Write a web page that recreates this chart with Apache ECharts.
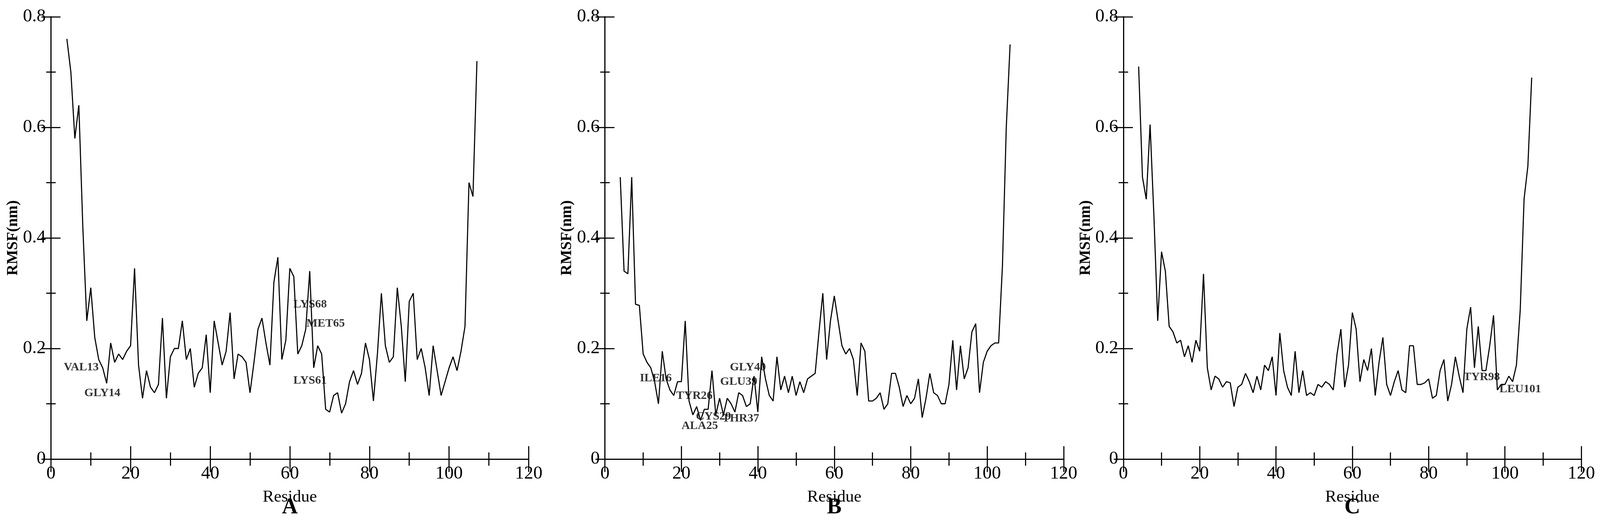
<!DOCTYPE html>
<html><head><meta charset="utf-8">
<script src="https://cdn.jsdelivr.net/npm/echarts@6/dist/echarts.min.js"></script>
<style>html,body{margin:0;padding:0;background:#fff;overflow:hidden}#c{width:100vw;height:100vh}</style>
</head><body><div id="c"></div>
<script>
const residuesA = Array.from({length:104},(_,i)=>i+4);
const residuesB = Array.from({length:103},(_,i)=>i+4);
const residuesC = Array.from({length:104},(_,i)=>i+4);
const rmsfA = [0.76,0.70,0.58,0.64,0.42,0.25,0.31,0.22,0.18,0.165,0.137,0.21,0.175,0.19,0.18,0.195,0.205,0.345,0.17,0.11,0.16,0.13,0.12,0.135,0.255,0.11,0.185,0.20,0.20,0.25,0.18,0.20,0.13,0.155,0.165,0.225,0.12,0.25,0.21,0.17,0.195,0.265,0.145,0.19,0.185,0.175,0.12,0.175,0.235,0.255,0.21,0.17,0.32,0.365,0.18,0.215,0.345,0.33,0.19,0.205,0.235,0.34,0.165,0.205,0.19,0.09,0.085,0.115,0.12,0.083,0.10,0.14,0.16,0.135,0.155,0.21,0.18,0.105,0.19,0.30,0.205,0.175,0.185,0.31,0.24,0.14,0.285,0.30,0.18,0.20,0.165,0.115,0.205,0.16,0.115,0.14,0.165,0.185,0.16,0.195,0.24,0.50,0.475,0.72];
const rmsfB = [0.51,0.34,0.335,0.51,0.28,0.278,0.19,0.175,0.165,0.14,0.10,0.195,0.145,0.125,0.115,0.14,0.14,0.25,0.105,0.08,0.095,0.07,0.09,0.09,0.16,0.08,0.11,0.08,0.11,0.10,0.085,0.12,0.115,0.095,0.10,0.15,0.085,0.185,0.145,0.115,0.105,0.185,0.125,0.15,0.12,0.15,0.115,0.14,0.12,0.145,0.15,0.155,0.23,0.30,0.18,0.25,0.295,0.25,0.205,0.19,0.20,0.18,0.115,0.21,0.195,0.105,0.105,0.11,0.12,0.09,0.10,0.155,0.155,0.13,0.095,0.115,0.10,0.11,0.145,0.075,0.11,0.155,0.12,0.115,0.10,0.10,0.135,0.215,0.125,0.205,0.145,0.165,0.23,0.245,0.12,0.175,0.195,0.205,0.21,0.21,0.35,0.60,0.75];
const rmsfC = [0.71,0.51,0.47,0.605,0.44,0.25,0.375,0.34,0.24,0.23,0.21,0.215,0.185,0.205,0.175,0.215,0.195,0.335,0.165,0.125,0.15,0.145,0.13,0.14,0.138,0.095,0.13,0.135,0.155,0.14,0.12,0.15,0.125,0.17,0.16,0.185,0.115,0.228,0.16,0.13,0.115,0.195,0.12,0.16,0.115,0.12,0.115,0.135,0.13,0.14,0.135,0.125,0.19,0.235,0.13,0.17,0.265,0.235,0.14,0.18,0.16,0.20,0.115,0.175,0.22,0.135,0.115,0.14,0.16,0.125,0.12,0.205,0.205,0.135,0.135,0.138,0.145,0.11,0.115,0.16,0.18,0.105,0.135,0.185,0.15,0.12,0.235,0.275,0.165,0.24,0.16,0.16,0.205,0.26,0.125,0.135,0.135,0.15,0.14,0.17,0.27,0.47,0.53,0.69];
const labelsA = [["VAL13",7.6,0.166],["GLY14",12.9,0.119],["LYS68",65.1,0.28],["MET65",69,0.245],["LYS61",65.1,0.142]];
const labelsB = [["ILE16",13.3,0.146],["TYR26",23.4,0.114],["CYS29",28.4,0.077],["ALA25",24.8,0.06],["THR37",35.5,0.073],["GLU39",35.0,0.14],["GLY40",37.4,0.166]];
const labelsC = [["TYR98",93.9,0.148],["LEU101",104,0.126]];
const panelNames = ["A","B","C"];
const xTicks = [0,20,40,60,80,100,120];
const yTicks = [0,0.2,0.4,0.6,0.8];

const W = window.innerWidth, H = window.innerHeight;
const sx = W/4364, sy = H/1354, s = Math.min(sx, sy);
const F = '"Liberation Serif", "DejaVu Serif", serif';
const grids = [{left:139,width:1303},{left:1650,width:1251},{left:3064,width:1249}];
const sets = [[residuesA,rmsfA,labelsA],[residuesB,rmsfB,labelsB],[residuesC,rmsfC,labelsC]];
const opt = {animation:false,backgroundColor:'#fff',grid:[],xAxis:[],yAxis:[],series:[],graphic:[]};
const lw = Math.max(1, 3*s);
const line = {show:true,lineStyle:{color:'#000',width:lw}};
grids.forEach((g,i)=>{
  opt.grid.push({left:g.left*sx,width:g.width*sx,top:43*sy,height:1132*sy});
  const base = {type:'value',min:0,max:120,interval:20,gridIndex:i,axisLine:line,splitLine:{show:false},
    axisTick:{inside:true,length:33*sy,lineStyle:{color:'#000',width:lw}},
    minorTick:{show:true,splitNumber:2,length:17*sy,lineStyle:{color:'#000',width:lw}}};
  opt.xAxis.push(Object.assign({},base,{position:'bottom',name:'Residue',nameLocation:'middle',nameGap:76*sy,
    nameTextStyle:{fontFamily:F,fontSize:46*s,color:'#000'},
    axisLabel:{fontFamily:F,fontSize:50*s,color:'#000',margin:14*sy,formatter:v=>xTicks.includes(v)?String(v):''}}));
  opt.xAxis.push(Object.assign({},base,{position:'top',axisLabel:{show:false}}));
  const yb = {type:'value',min:0,max:0.8,interval:0.2,gridIndex:i,axisLine:line,splitLine:{show:false},
    axisTick:{inside:true,length:26*sx,lineStyle:{color:'#000',width:lw}},
    minorTick:{show:true,splitNumber:2,length:13*sx,lineStyle:{color:'#000',width:lw}}};
  opt.yAxis.push(Object.assign({},yb,{position:'left',name:'RMSF(nm)',nameLocation:'middle',nameGap:82*sx,
    nameTextStyle:{fontFamily:F,fontSize:42*s,fontWeight:'bold',color:'#000'},
    axisLabel:{fontFamily:F,fontSize:50*s,color:'#000',margin:14*sx,formatter:v=>{const t=yTicks.find(k=>Math.abs(k-v)<1e-9);return t===undefined?'':(t===0?'0':t.toFixed(1));}}}));
  opt.yAxis.push(Object.assign({},yb,{position:'right',axisLabel:{show:false}}));
  const [xs,ys,lbs] = sets[i];
  opt.series.push({type:'line',xAxisIndex:2*i,yAxisIndex:2*i,data:xs.map((x,k)=>[x,ys[k]]),
    showSymbol:false,symbol:'none',lineStyle:{color:'#000',width:lw}});
  opt.series.push({type:'scatter',xAxisIndex:2*i,yAxisIndex:2*i,symbolSize:0,
    data:lbs.map(l=>({name:l[0],value:[l[1],l[2]]})),
    label:{show:true,position:'inside',formatter:p=>p.name,fontFamily:F,fontSize:32*s,fontWeight:'bold',color:'#000'}});
  opt.graphic.push({type:'text',x:(g.left+g.width/2)*sx,y:1300*sy,style:{text:panelNames[i],font:'bold '+Math.round(60*s)+'px '+F,fill:'#000',align:'center',verticalAlign:'middle'}});
});
const ch = echarts.init(document.getElementById('c'));
ch.setOption(opt);
</script></body></html>
